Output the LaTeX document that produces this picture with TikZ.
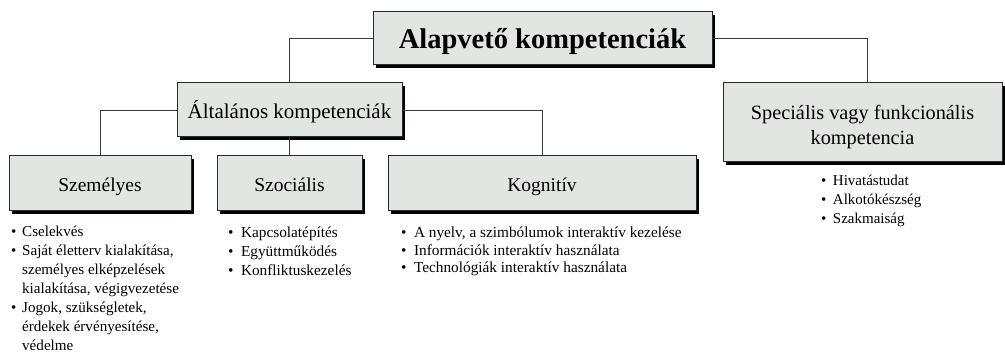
\documentclass[tikz,border=0pt]{standalone}
\usepackage{fontspec}
\setmainfont{Liberation Serif}
\usetikzlibrary{shadows}
\definecolor{boxfill}{HTML}{E2E6E3}
\definecolor{boxline}{HTML}{2A2A2A}
\definecolor{conn}{HTML}{3A3A3A}
\newcommand{\bul}[1][11pt]{\makebox[#1][l]{\textbullet}}
\newcommand{\bulind}[1][11pt]{\hspace*{#1}}
\tikzset{
  boxnode/.style={draw=boxline, line width=1pt, fill=boxfill, inner sep=0pt,
    align=center, drop shadow={shadow xshift=3.2pt, shadow yshift=-3.2pt, fill=black, opacity=1}},
  connline/.style={draw=conn, line width=0.9pt},
  listnode/.style={anchor=north west, inner sep=0pt, align=left},
}
\begin{document}
\begin{tikzpicture}[x=1pt,y=-1pt]
\useasboundingbox (0,0) rectangle (1005,352);
% boxes
\node[boxnode, minimum width=339pt, minimum height=53pt, text height=24pt, text depth=4pt, font=\fontsize{28.5}{31}\selectfont\bfseries] (top) at (542.5,38.5) {Alapvető kompetenciák};
\node[boxnode, minimum width=225pt, minimum height=54pt, text height=21pt, text depth=4.5pt, font=\fontsize{21}{24}\selectfont] (gen) at (289.5,110) {Általános kompetenciák};
\node[boxnode, minimum width=182pt, minimum height=55pt, text height=20pt, text depth=4pt, font=\fontsize{19.5}{23}\selectfont] (sz) at (100,183.5) {Személyes};
\node[boxnode, minimum width=145pt, minimum height=55pt, text height=20pt, text depth=4pt, font=\fontsize{19.5}{23}\selectfont] (szoc) at (289.5,183.5) {Szociális};
\node[boxnode, minimum width=308pt, minimum height=55pt, text height=20pt, text depth=4pt, font=\fontsize{19.5}{23}\selectfont] (kog) at (542,183.5) {Kognitív};
\node[boxnode, minimum width=279pt, minimum height=79pt, font=\fontsize{20.3}{25}\selectfont] (spec) at (862.5,122.5) {\rule{0pt}{24pt}Speciális vagy funkcionális\\kompetencia};
% connectors
\draw[connline] (top.west) -| (gen.north);
\draw[connline] (top.east) -| ([xshift=4.5pt]spec.north);
\draw[connline] (gen.west) -| (sz.north);
\draw[connline] (gen.east) -| (kog.north);
\draw[connline] (gen.south) -- (szoc.north);
% lists
\node[listnode, font=\fontsize{15.1}{19}\selectfont] (l1) at (11,226) {%
\bul Cselekvés\\
\bul Saját életterv kialakítása,\\
\bulind személyes elképzelések\\
\bulind kialakítása, végigvezetése\\
\bul Jogok, szükségletek,\\
\bulind érdekek érvényesítése,\\
\bulind védelme};
\node[listnode, font=\fontsize{15.3}{19}\selectfont] (l2) at (228,227) {%
\bul[9pt] Kapcsolatépítés\\
\bul[9pt] Együttműködés\\
\bul[9pt] Konfliktuskezelés};
\node[listnode, font=\fontsize{15.3}{17.2}\selectfont] (l3) at (401,227) {%
\bul[9pt] A nyelv, a szimbólumok interaktív kezelése\\
\bul[9pt] Információk interaktív használata\\
\bul[9pt] Technológiák interaktív használata};
\node[listnode, font=\fontsize{15}{19}\selectfont] (l4) at (821,174.5) {%
\bul[8pt] Hivatástudat\\
\bul[8pt] Alkotókészség\\
\bul[8pt] Szakmaiság};
\end{tikzpicture}
\end{document}
